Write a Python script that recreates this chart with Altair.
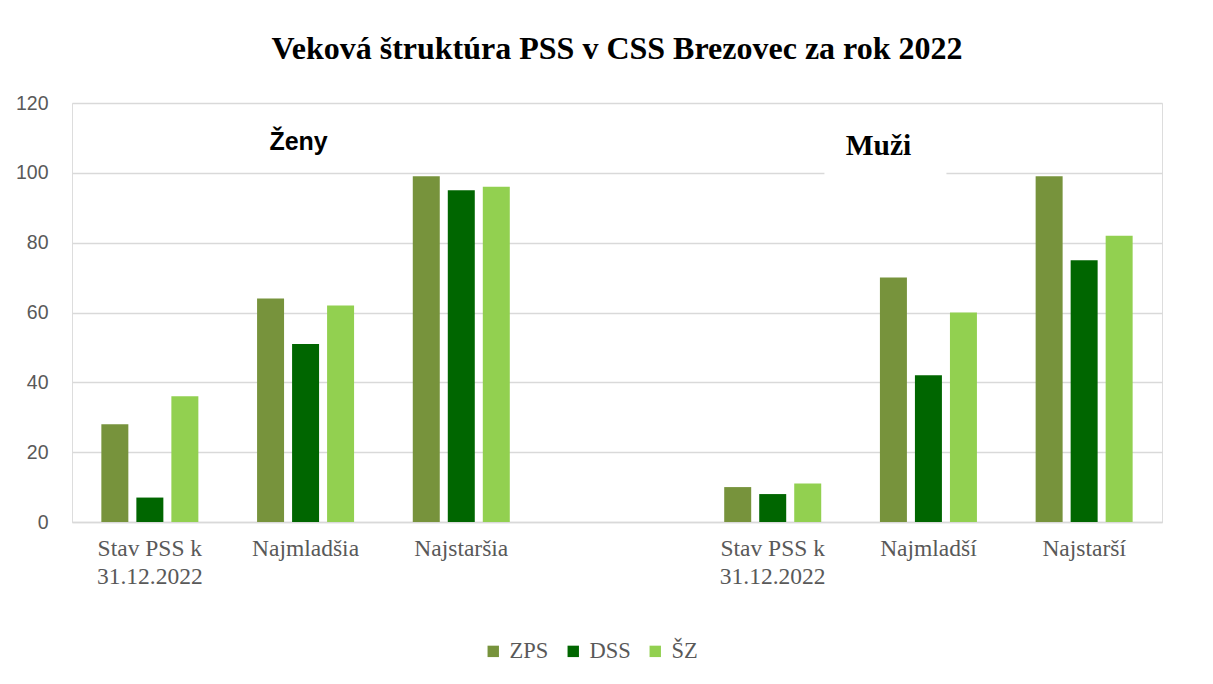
import json
import altair as alt
import pandas as pd

# ---- data ----
cat_keys = ["c0", "c1", "c2", "c3", "c4", "c5", "c6"]
cat_labels = [
    ["Stav PSS k", "31.12.2022"],
    ["Najmladšia"],
    ["Najstaršia"],
    [""],
    ["Stav PSS k", "31.12.2022"],
    ["Najmladší"],
    ["Najstarší"],
]
series = ["ZPS", "DSS", "ŠZ"]
zps = [28, 64, 99, None, 10, 70, 99]
dss = [7, 51, 95, None, 8, 42, 75]
sz = [36, 62, 96, None, 11, 60, 82]
colors = ["#77933C", "#006600", "#92D050"]

rows = []
for s, vals in zip(series, [zps, dss, sz]):
    for k, v in zip(cat_keys, vals):
        if v is not None:
            rows.append({"cat": k, "series": s, "value": v})
df = pd.DataFrame(rows)

labels_js = json.dumps(cat_labels, ensure_ascii=False)
keys_js = json.dumps(cat_keys)
label_expr = f"{labels_js}[indexof({keys_js}, datum.value)]"

SERIF = "Liberation Serif, Times New Roman, serif"

x_enc = alt.X(
    "cat:N",
    scale=alt.Scale(domain=cat_keys, paddingInner=0.377, paddingOuter=0.1885),
    axis=alt.Axis(
        title=None,
        labelExpr=label_expr,
        labelAngle=0,
        labelFont=SERIF,
        labelFontSize=23.5,
        labelColor="#595959",
        labelPadding=14,
        labelBaseline="top",
        labelLineHeight=28,
        labelLimit=300,
        labelOverlap=False,
        ticks=False,
        domain=True,
        domainColor="#d9d9d9",
        domainWidth=1.5,
        grid=False,
    ),
)

y_scale = alt.Scale(domain=[0, 120], nice=False)

bars = alt.Chart(df).mark_bar().encode(
    x=x_enc,
    xOffset=alt.XOffset(
        "series:N",
        scale=alt.Scale(domain=series, paddingInner=0.229, paddingOuter=0),
    ),
    y=alt.Y(
        "value:Q",
        scale=y_scale,
        axis=alt.Axis(
            title=None,
            values=[0, 20, 40, 60, 80, 100, 120],
            labelFont="Liberation Sans",
            labelFontSize=19.5,
            labelColor="#595959",
            labelPadding=24,
            ticks=False,
            domain=False,
            grid=True,
            gridColor="#d9d9d9",
            gridWidth=1.5,
        ),
    ),
    color=alt.Color(
        "series:N",
        scale=alt.Scale(domain=series, range=colors),
        legend=alt.Legend(
            title=None,
            orient="none",
            direction="horizontal",
            legendX=410,
            legendY=537,
            symbolType="square",
            symbolSize=130,
            symbolStrokeWidth=0,
            symbolOpacity=1,
            labelFont=SERIF,
            labelFontSize=22.5,
            labelColor="#595959",
            labelOffset=5,
            columnPadding=13,
            padding=0,
        ),
    ),
)

mask = alt.Chart().mark_rect(color="white", width=122).encode(
    x=alt.datum("c5", scale=alt.Scale(domain=cat_keys)),
    xOffset=alt.value(5.5),
    y=alt.datum(98.5),
    y2=alt.datum(104),
)

zeny = alt.Chart().mark_text(
    text="Ženy", font="Liberation Sans", fontSize=25, fontWeight="bold",
    color="black", baseline="alphabetic", dx=-7,
).encode(x=alt.datum("c1"), y=alt.datum(106.5))

muzi = alt.Chart().mark_text(
    text="Muži", font=SERIF, fontSize=29.5, fontWeight="bold",
    color="black", baseline="alphabetic", dx=-50,
).encode(x=alt.datum("c5"), y=alt.datum(105.1))

chart = (
    alt.layer(bars, mask, zeny, muzi)
    .properties(
        width=1090,
        height=419,
        autosize=alt.AutoSizeParams(type="none"),
        padding={"left": 64, "top": 95, "right": 40, "bottom": 150},
        title=alt.Title(
            "Veková štruktúra PSS v CSS Brezovec za rok 2022",
            font=SERIF,
            fontSize=32,
            fontWeight="bold",
            color="black",
            anchor="middle",
            offset=27,
        ),
    )
    .configure_view(stroke="transparent", strokeWidth=0, strokeOpacity=0)
    .configure_legend(labelFont=SERIF)
    .configure(background="white")
)

chart.save("out.html", embed_options={"renderer": "svg", "actions": False})
